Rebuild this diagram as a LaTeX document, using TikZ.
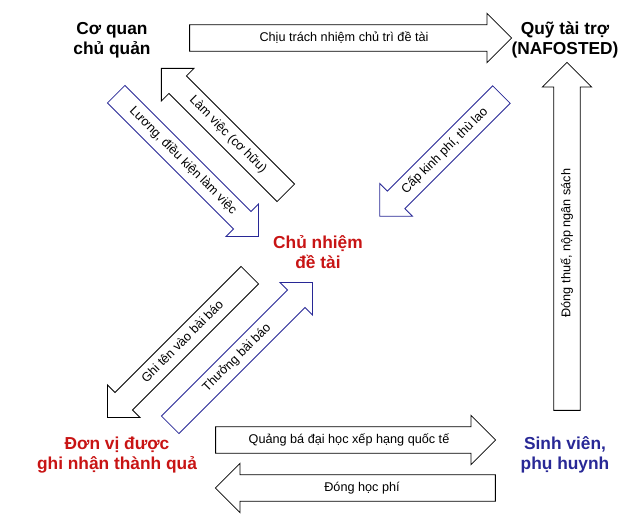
\documentclass[tikz,border=0pt]{standalone}
\usepackage{fontspec}
\setmainfont{Liberation Sans}
\usetikzlibrary{shapes.arrows}
\definecolor{myblue}{RGB}{40,40,150}
\definecolor{myred}{RGB}{200,20,20}
\tikzset{
 arr/.style={single arrow, draw=black, fill=white, line width=0.6pt, font=\fontsize{9.5}{11}\selectfont,
   text height=7pt, text depth=2pt, inner ysep=4.5pt, inner xsep=2pt,
   single arrow head extend=8pt, single arrow tip angle=90},
 barr/.style={arr, draw=myblue},
 lab/.style={font=\fontsize{13}{15}\selectfont\bfseries, align=center},
}
\begin{document}
\begin{tikzpicture}[x=0.75pt,y=0.75pt]
\useasboundingbox (0,0) rectangle (640,527);
\node[lab] (cq) at (112,487) {Cơ quan\\chủ quản};
\node[lab] (qt) at (565,487) {Quỹ tài trợ\\(NAFOSTED)};
\node[lab, text=myred] (cn) at (318,275) {Chủ nhiệm\\đề tài};
\node[lab, text=myred] (dv) at (117,72) {Đơn vị được\\ghi nhận thành quả};
\node[lab, text=myblue] (sv) at (565,72) {Sinh viên,\\phụ huynh};

\node[arr, minimum height=241.5pt, minimum width=37pt] (a1) at (344,489) {Chịu trách nhiệm chủ trì đề tài};
\node[arr, rotate=-45, shape border rotate=180, minimum height=132pt, minimum width=34pt] (a2) at (228,392) {Làm việc (cơ hữu)};
\node[barr, rotate=-45, minimum height=151pt, minimum width=34pt] (a3) at (183,366) {Lương, điều kiện làm việc};
\node[barr, rotate=45, shape border rotate=180, minimum height=129pt, minimum width=34pt] (a4) at (445,376) {Cấp kinh phí, thù lao};
\node[arr, rotate=90, minimum height=261pt, minimum width=37pt] (a5) at (567,284) {Đóng thuế, nộp ngân sách};
\node[arr, rotate=45, shape border rotate=180, minimum height=151pt, minimum width=34pt] (a6) at (183,185) {Ghi tên vào bài báo};
\node[barr, rotate=45, minimum height=151pt, minimum width=34pt] (a7) at (237,169) {Thưởng bài báo};
\node[arr, minimum height=210pt, minimum width=37pt] (a8) at (349,87) {Quảng bá đại học xếp hạng quốc tế};
\node[arr, shape border rotate=180, minimum height=210pt, minimum width=37pt] (a9) at (362,39) {Đóng học phí};
\end{tikzpicture}
\end{document}
